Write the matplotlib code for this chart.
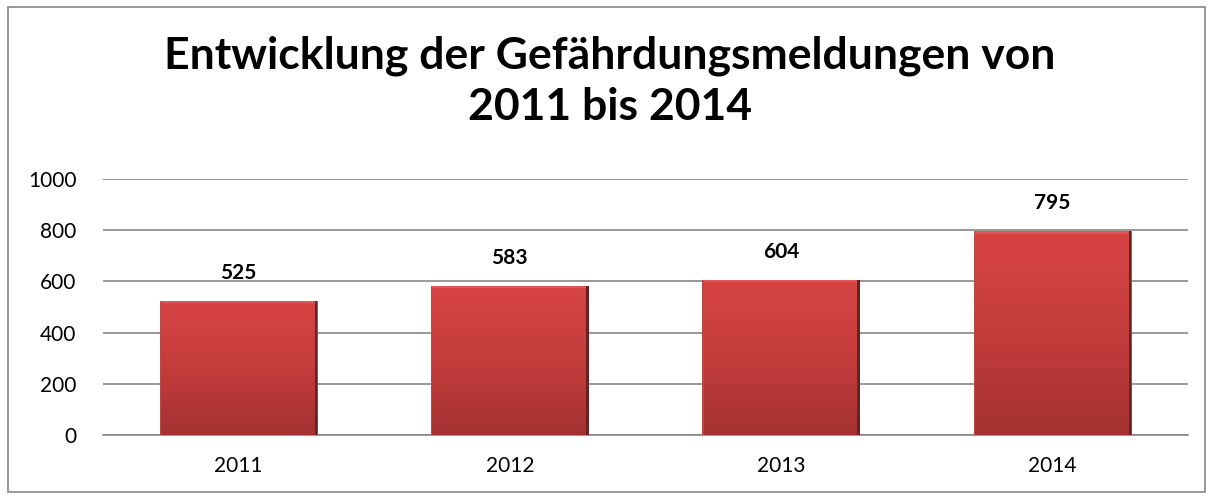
import numpy as np
import matplotlib.pyplot as plt
from matplotlib.colors import LinearSegmentedColormap
from matplotlib.patches import Rectangle

# Daten
jahre = ['2011', '2012', '2013', '2014']
meldungen = [525, 583, 604, 795]
y_ticks = [0, 200, 400, 600, 800, 1000]
titel = 'Entwicklung der Gefährdungsmeldungen von\n2011 bis 2014'

plt.rcParams['font.family'] = ['Lato', 'DejaVu Sans']

fig = plt.figure(figsize=(12.13, 4.98), dpi=100)
ax = fig.add_axes([0.0849, 0.1265, 0.8945, 0.5141])

x = np.arange(len(jahre))
bars = ax.bar(x, meldungen, width=0.58, color='#c53a3a', zorder=2)

# Farbverlauf in den Balken
cmap = LinearSegmentedColormap.from_list('rot', ['#a53232', '#c43c3c', '#d74444'])
grad = np.linspace(0, 1, 256).reshape(-1, 1)
for b in bars:
    bx, by = b.get_x(), b.get_y()
    bw, bh = b.get_width(), b.get_height()
    im = ax.imshow(grad, extent=[bx, bx + bw, by, by + bh], origin='lower',
                   cmap=cmap, aspect='auto', zorder=3)
    im.set_clip_path(b)
    # Kanten (Bevel)
    ax.add_patch(Rectangle((bx, by + bh - 8), bw, 8, color='#e05555', lw=0, zorder=4))
    ax.add_patch(Rectangle((bx + bw * 0.985, by), bw * 0.015, bh, color='#6e1f1f', lw=0, zorder=4))
    ax.add_patch(Rectangle((bx, by), bw * 0.008, bh, color='#b54a4a', lw=0, zorder=4))
    b.set_visible(False)

for xi, v in zip(x, meldungen):
    ax.annotate(str(v), (xi, v), xytext=(0, 13), textcoords='offset points',
                ha='center', va='bottom', fontsize=15, fontweight='bold')

ax.set_xlim(-0.5, len(jahre) - 0.5)
ax.set_ylim(0, 1000)
ax.set_yticks(y_ticks)
ax.set_xticks(x)
ax.set_xticklabels(jahre)
ax.tick_params(axis='both', length=0, labelsize=15)
ax.tick_params(axis='y', pad=19)
ax.tick_params(axis='x', pad=15)
ax.grid(axis='y', color='#868686', linewidth=1.2, zorder=1)
for s in ['top', 'right', 'left']:
    ax.spines[s].set_visible(False)
ax.spines['bottom'].set_color('#868686')
ax.spines['bottom'].set_linewidth(1.2)

fig.text(0.503, 0.837, titel, ha='center', va='center', fontsize=32,
         fontweight='bold', linespacing=1.35)

# Rahmen
fig.patches.append(Rectangle((8 / 1213, 6 / 498), 1197 / 1213, 485 / 498,
                             transform=fig.transFigure, fill=False,
                             edgecolor='#868686', linewidth=1.2))

fig.savefig('out.png', dpi=100)
